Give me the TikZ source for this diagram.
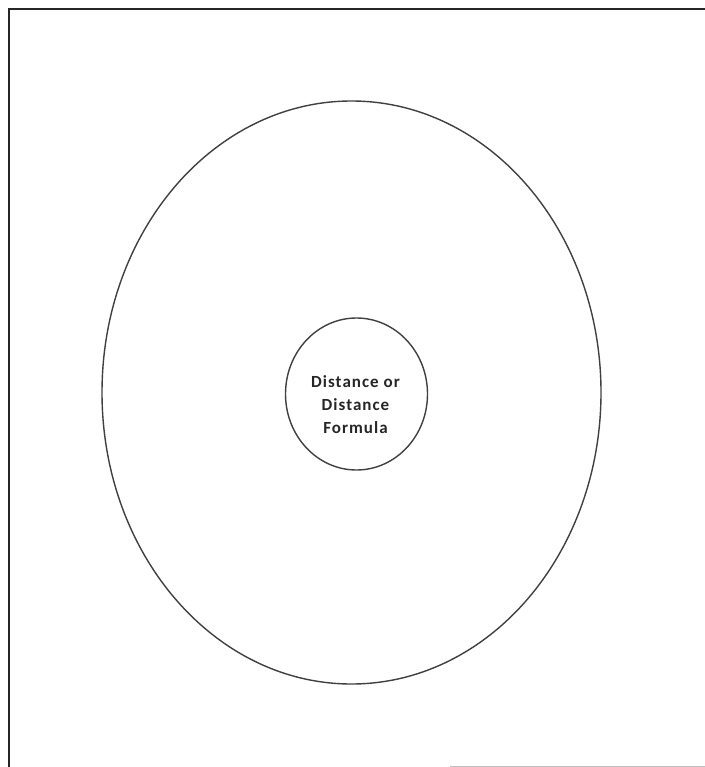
\documentclass[tikz,border=0pt]{standalone}
\usepackage{fontspec}
\usetikzlibrary{shapes.geometric}
\newfontfamily\labelfont[LetterSpace=6]{Carlito}
\begin{document}
\begin{tikzpicture}[x=1pt,y=-1pt,
  frameline/.style={line width=2pt,black!85},
  ringline/.style={line width=1.4pt,draw=black!75,ellipse,inner sep=0pt},
  centertext/.style={font=\labelfont\bfseries\fontsize{17}{23}\selectfont,align=center,text=black!85}]
\useasboundingbox (0,0) rectangle (704,767);
\coordinate (tl) at (9,9);
\coordinate (tr) at (706,9);
\coordinate (bl) at (9,769);
\coordinate (bm) at (450,766);
\coordinate (br) at (706,766);
\draw[frameline] (tr) -- (tl) -- (bl);
\draw[line width=1pt,black!25] (bm) -- (br);
\node[ringline,minimum width=499pt,minimum height=583pt] (outer) at (351.5,392.5) {};
\node[ringline,minimum width=142pt,minimum height=152pt] (inner) at (356.5,394) {};
\node[centertext] (label) at (355.5,405) {Distance or\\Distance\\Formula};
\end{tikzpicture}
\end{document}
